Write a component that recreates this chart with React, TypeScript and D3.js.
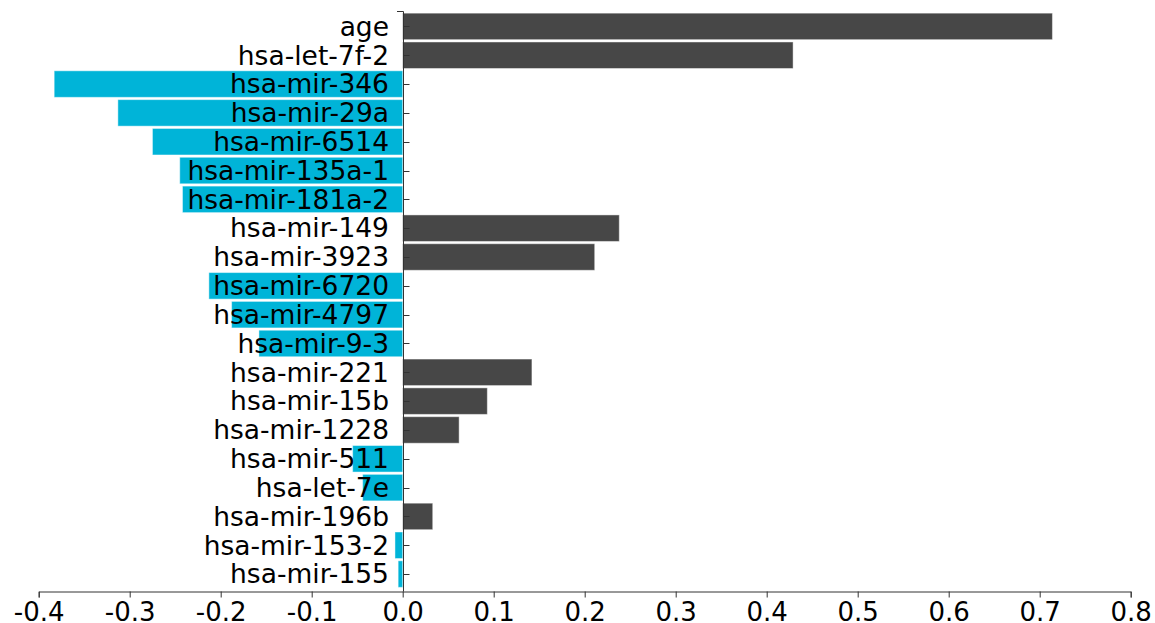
import { useEffect, useRef } from "react";
import * as d3 from "d3";

const W = 1155;
const H = 623;

const FEATURES = [
  "age", "hsa-let-7f-2", "hsa-mir-346", "hsa-mir-29a", "hsa-mir-6514",
  "hsa-mir-135a-1", "hsa-mir-181a-2", "hsa-mir-149", "hsa-mir-3923", "hsa-mir-6720",
  "hsa-mir-4797", "hsa-mir-9-3", "hsa-mir-221", "hsa-mir-15b", "hsa-mir-1228",
  "hsa-mir-511", "hsa-let-7e", "hsa-mir-196b", "hsa-mir-153-2", "hsa-mir-155",
];

const COEFS = [
  0.714, 0.429, -0.383, -0.313, -0.275,
  -0.245, -0.242, 0.238, 0.211, -0.213,
  -0.188, -0.158, 0.142, 0.093, 0.062,
  -0.055, -0.044, 0.033, -0.0085, -0.005,
];

const X_TICKS = [-0.4, -0.3, -0.2, -0.1, 0.0, 0.1, 0.2, 0.3, 0.4, 0.5, 0.6, 0.7, 0.8];

const POS = "#474747";
const NEG = "#00b4d8";
const FONT = "'DejaVu Sans', Verdana, sans-serif";

export default function App() {
  const svgRef = useRef<SVGSVGElement>(null);

  useEffect(() => {
    const svg = d3.select(svgRef.current);
    svg.selectAll("*").remove();

    const x = d3.scaleLinear().domain([-0.4, 0.8]).range([38.7, 1130.7]);
    const y = d3.scaleBand<string>()
      .domain(FEATURES)
      .range([12, 588.5])
      .paddingInner(0.08)
      .paddingOuter(0.04);

    const yTop = 11.5;
    const yBot = 591.5;
    const x0 = Math.round(x(0)) + 0.5;

    // bars
    svg.append("g")
      .selectAll("rect")
      .data(FEATURES)
      .join("rect")
      .attr("x", (_, i) => x(Math.min(0, COEFS[i])))
      .attr("y", d => y(d)!)
      .attr("width", (_, i) => Math.abs(x(COEFS[i]) - x(0)))
      .attr("height", y.bandwidth())
      .attr("fill", (_, i) => (COEFS[i] >= 0 ? POS : NEG))
      .attr("stroke", "#fff")
      .attr("stroke-opacity", 0.45)
      .attr("stroke-width", 1);

    // x axis
    const gx = svg.append("g")
      .attr("transform", `translate(0,${yBot})`)
      .call(
        d3.axisBottom(x)
          .tickValues(X_TICKS)
          .tickSize(6)
          .tickPadding(5)
          .tickFormat(d => d3.format(".1f")(+d).replace("\u2212", "-"))
      );
    gx.select(".domain").attr("stroke", "#333");
    gx.selectAll(".tick line").attr("stroke", "#333");
    gx.selectAll("text")
      .attr("fill", "#000")
      .attr("font-size", 26)
      .attr("font-family", FONT);

    // y axis: ticks point into the plot, labels drawn on top of bars
    const gy = svg.append("g").attr("transform", `translate(${x0 - 0.5},0)`);
    gy.append("path")
      .attr("d", `M-6,${yTop}H0.5V${yBot}`)
      .attr("fill", "none")
      .attr("stroke", "#333");
    gy.selectAll("line.tick")
      .data(FEATURES)
      .join("line")
      .attr("class", "tick")
      .attr("x1", 0.5)
      .attr("x2", 6.5)
      .attr("y1", d => Math.round(y(d)! + y.bandwidth() / 2) + 0.5)
      .attr("y2", d => Math.round(y(d)! + y.bandwidth() / 2) + 0.5)
      .attr("stroke", "#333");
    gy.selectAll("text")
      .data(FEATURES)
      .join("text")
      .attr("x", -14)
      .attr("y", d => y(d)! + y.bandwidth() / 2)
      .attr("dy", "0.35em")
      .attr("text-anchor", "end")
      .attr("fill", "#000")
      .attr("font-size", 26.5)
      .attr("font-family", FONT)
      .text(d => d);
  }, []);

  return (
    <svg
      ref={svgRef}
      width={W}
      height={H}
      viewBox={`0 0 ${W} ${H}`}
      style={{ position: "absolute", left: 0, top: 0, background: "#fff" }}
    />
  );
}
